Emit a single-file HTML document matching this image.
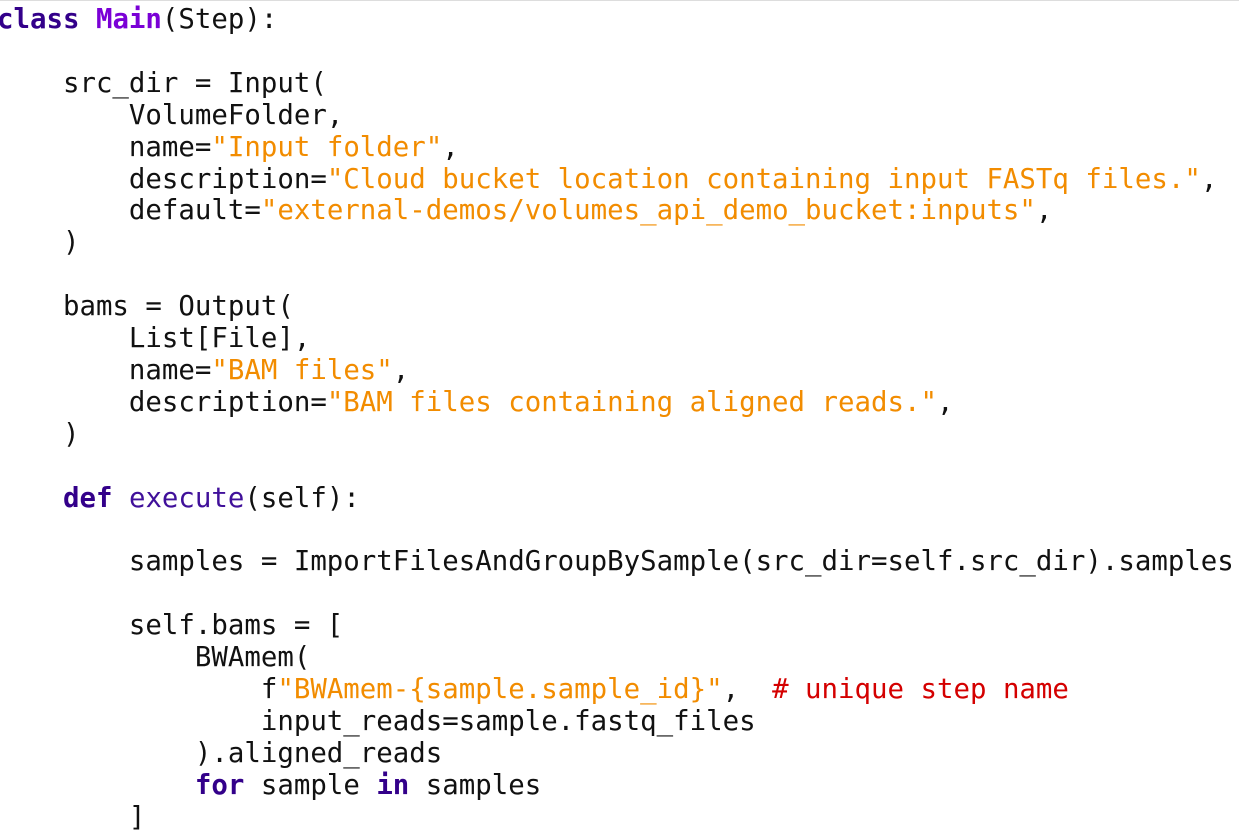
<!DOCTYPE html>
<html><head><meta charset="utf-8"><style>
html,body{margin:0;padding:0;background:#fff;width:1239px;height:835px;overflow:hidden}
pre{position:absolute;left:-3px;top:4px;margin:0;font-family:"DejaVu Sans Mono","Liberation Mono",monospace;font-size:27.4px;line-height:31.9px;color:#111}
.k{color:#33008a;font-weight:bold}
.m{color:#7a00d6;font-weight:bold}
.f{color:#40109a}
.s{color:#f28c00}
.c{color:#d40000}
.top{position:absolute;left:0;top:0;width:1239px;height:1px;background:#ddd}
</style></head><body><div class="top"></div><pre><span class="k">class</span> <span class="m">Main</span>(Step):

    src_dir = Input(
        VolumeFolder,
        name=<span class="s">"Input folder"</span>,
        description=<span class="s">"Cloud bucket location containing input FASTq files."</span>,
        default=<span class="s">"external-demos/volumes_api_demo_bucket:inputs"</span>,
    )

    bams = Output(
        List[File],
        name=<span class="s">"BAM files"</span>,
        description=<span class="s">"BAM files containing aligned reads."</span>,
    )

    <span class="k">def</span> <span class="f">execute</span>(self):

        samples = ImportFilesAndGroupBySample(src_dir=self.src_dir).samples

        self.bams = [
            BWAmem(
                f<span class="s">"BWAmem-{sample.sample_id}"</span>,  <span class="c"># unique step name</span>
                input_reads=sample.fastq_files
            ).aligned_reads
            <span class="k">for</span> sample <span class="k">in</span> samples
        ]</pre></body></html>
